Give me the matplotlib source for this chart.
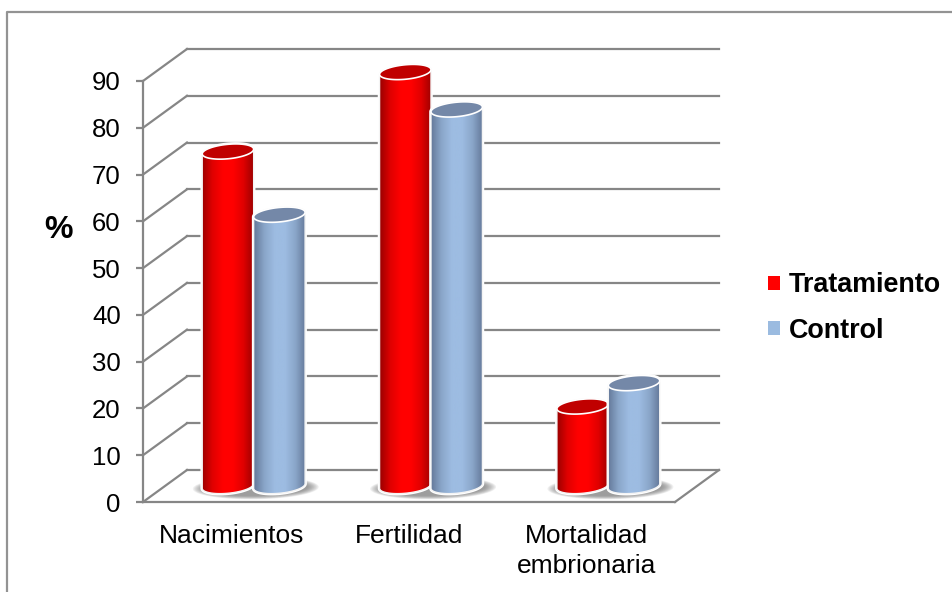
import matplotlib

matplotlib.use("Agg")
import matplotlib.pyplot as plt
import numpy as np
from matplotlib.colors import LinearSegmentedColormap
from matplotlib.lines import Line2D
from matplotlib.patches import Patch, Polygon

plt.rcParams["font.family"] = ["Liberation Sans", "DejaVu Sans"]

categories = ["Nacimientos", "Fertilidad", "Mortalidad\nembrionaria"]
tratamiento = [71.5, 88.5, 17]
control = [58, 80.5, 22]
yticks = [0, 10, 20, 30, 40, 50, 60, 70, 80, 90]

GRID = "#868686"
DEPTH_X = 0.248  # floor depth, in category units
DEPTH_Y = 6.84  # floor depth, in value units
BAR_W = 0.29
CAP_H = 1.55
CAP_TILT = 0.5

red_cmap = LinearSegmentedColormap.from_list(
    "red", ["#9c0000", "#e00000", "#ff0000", "#ff0000", "#e00000", "#9c0000"]
)
blue_cmap = LinearSegmentedColormap.from_list(
    "blue", ["#64799a", "#8aa6c9", "#9dbce2", "#9dbce2", "#8aa6c9", "#64799a"]
)


def ellipse(cx, cy, a, b, tilt, t):
    return np.column_stack([cx + a * np.cos(t), cy + b * np.sin(t) + tilt * np.cos(t)])


def draw_cylinder(ax, x, value, cmap, cap_color, z):
    a = BAR_W / 2
    base = DEPTH_Y / 2
    top = base + value
    lower = np.linspace(np.pi, 2 * np.pi, 50)
    upper = np.linspace(0, np.pi, 50)
    body = np.vstack(
        [
            ellipse(x, base, a, CAP_H, CAP_TILT, lower),
            ellipse(x, top, a, CAP_H, CAP_TILT, upper),
        ]
    )
    # white halo that interrupts the gridlines next to the bar
    ax.add_patch(Polygon(body, fc="none", ec="white", lw=2.6, zorder=z, clip_on=False))
    outline = Polygon(body, fc="none", ec="#f4f4f4", lw=1, zorder=z + 0.2, clip_on=False)
    ax.add_patch(outline)
    im = ax.imshow(
        np.linspace(0, 1, 128)[None, :],
        cmap=cmap,
        extent=[x - a, x + a, base - 3, top + 3],
        aspect="auto",
        zorder=z + 0.1,
    )
    im.set_clip_path(outline)
    im.set_clip_box(ax.figure.bbox)
    cap = ellipse(x, top, a, CAP_H, CAP_TILT, np.linspace(0, 2 * np.pi, 100))
    ax.add_patch(Polygon(cap, fc=cap_color, ec="white", lw=1.2, zorder=z + 0.3, clip_on=False))


def draw_shadow(ax, x):
    # stacked translucent ellipses give the soft contact shadow of a bar pair
    t = np.linspace(0, 2 * np.pi, 100)
    for grow in np.linspace(0.065, 0.005, 10):
        pts = ellipse(x + 0.012, DEPTH_Y / 2 - 0.4, BAR_W + grow, CAP_H + 0.1 + grow * 12, 0.2, t)
        ax.add_patch(Polygon(pts, fc="#707070", ec="none", alpha=0.1, zorder=2, clip_on=False))


fig = plt.figure(figsize=(9.53, 5.92), dpi=100)
ax = fig.add_axes([143 / 953, (592 - 502) / 592, 532 / 953, 421 / 592])

# outer chart frame, open towards the image edges
fig.add_artist(Line2D([7.5 / 953, 7.5 / 953, 1], [0, 580.5 / 592, 580.5 / 592], color="#939393", lw=1.6))

# back wall, side wall and floor
for v in yticks:
    ax.plot([DEPTH_X, 3 + DEPTH_X], [v + DEPTH_Y, v + DEPTH_Y], color=GRID, lw=1.6, zorder=1, clip_on=False)
    ax.plot([0, DEPTH_X], [v, v + DEPTH_Y], color=GRID, lw=1.6, zorder=1, clip_on=False)
ax.plot([3, 3 + DEPTH_X], [0, DEPTH_Y], color=GRID, lw=1.6, zorder=1, clip_on=False)

centers = np.arange(len(categories)) + 0.5
for i, c in enumerate(centers):
    pair = c + DEPTH_X / 2
    draw_shadow(ax, pair)
    draw_cylinder(ax, pair - BAR_W / 2, tratamiento[i], red_cmap, "#c00000", 3)
    draw_cylinder(ax, pair + BAR_W / 2, control[i], blue_cmap, "#7488a8", 4)

ax.set_xlim(0, 3)
ax.set_ylim(0, 90)
ax.set_yticks(yticks)
ax.set_xticks(centers, categories, linespacing=1.3)
ax.tick_params(axis="y", length=5, width=1.6, color=GRID, labelsize=18.5, pad=11)
ax.tick_params(axis="x", length=0, labelsize=19, pad=16)
for side in ("top", "right"):
    ax.spines[side].set_visible(False)
for side in ("left", "bottom"):
    ax.spines[side].set_color(GRID)
    ax.spines[side].set_linewidth(1.6)

fig.text(59 / 953, 1 - 230 / 592, "%", fontsize=23, fontweight="bold", ha="center", va="center")

handles = [Patch(fc="#ff0000", ec="none"), Patch(fc="#9bbbe0", ec="none")]
fig.legend(
    handles,
    ["Tratamiento", "Control"],
    loc="center left",
    bbox_to_anchor=(744 / 953, 1 - 308 / 592),
    frameon=False,
    prop={"weight": "bold", "size": 19.4},
    handlelength=0.42,
    handleheight=0.42,
    handletextpad=0.34,
    labelspacing=0.72,
)

fig.savefig("out.png", dpi=100)
